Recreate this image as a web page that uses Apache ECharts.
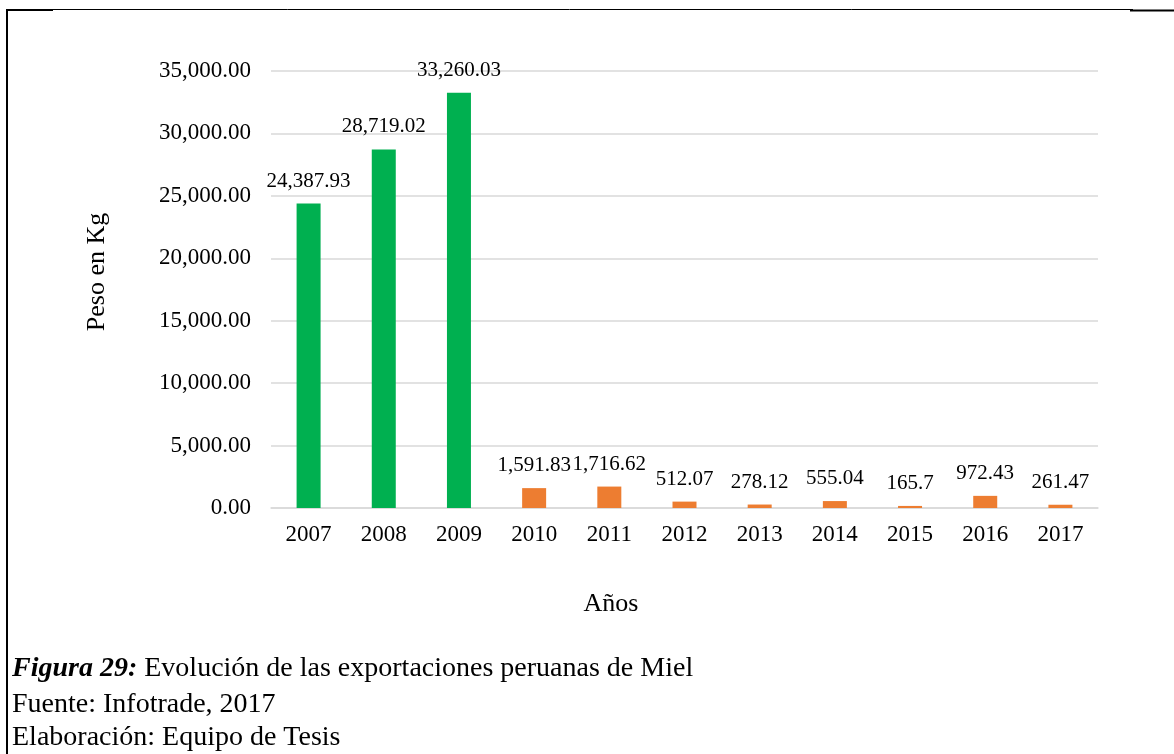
<!DOCTYPE html>
<html style="height: 100%">
<head>
<meta charset="utf-8">
</head>
<body style="height: 100%; margin: 0; background: #fff">
<div id="container" style="width: 1174px; height: 754px"></div>
<script src="https://cdn.jsdelivr.net/npm/echarts@6/dist/echarts.min.js"></script>
<script type="text/javascript">
var years = ['2007', '2008', '2009', '2010', '2011', '2012', '2013', '2014', '2015', '2016', '2017'];
var peso = [24387.93, 28719.02, 33260.03, 1591.83, 1716.62, 512.07, 278.12, 555.04, 165.7, 972.43, 261.47];
var captionLines = ['Fuente: Infotrade, 2017', 'Elaboración: Equipo de Tesis'];

var serif = '"Liberation Serif", "Times New Roman", serif';

function fmt(v, digits) {
    return v.toLocaleString('en-US', {minimumFractionDigits: digits, maximumFractionDigits: 2});
}

var dom = document.getElementById('container');
var myChart = echarts.init(dom);
var option = {
    animation: false,
    textStyle: {fontFamily: serif},
    grid: {left: 271, right: 76, top: 71, bottom: 246},
    xAxis: {
        type: 'category',
        data: years,
        axisLine: {lineStyle: {color: '#d9d9d9', width: 1.5}},
        axisTick: {show: false},
        axisLabel: {fontFamily: serif, fontSize: 23, color: '#000', margin: 15}
    },
    yAxis: {
        type: 'value',
        min: 0,
        max: 35000,
        interval: 5000,
        axisLine: {show: false},
        axisTick: {show: false},
        splitLine: {lineStyle: {color: '#d9d9d9', width: 1.5}},
        axisLabel: {
            fontFamily: serif, fontSize: 23, color: '#000', margin: 20,
            formatter: function (v) { return fmt(v, 2); }
        }
    },
    series: [{
        type: 'bar',
        data: peso,
        barWidth: 24,
        itemStyle: {
            color: function (p) { return p.dataIndex < 3 ? '#00b050' : '#ed7d31'; }
        },
        label: {
            show: true,
            position: 'top',
            distance: 12,
            fontFamily: serif,
            fontSize: 21,
            color: '#000',
            formatter: function (p) { return fmt(p.value, 0); }
        }
    }],
    graphic: [
        {type: 'line', shape: {x1: 7, y1: 9, x2: 7, y2: 754}, style: {stroke: '#000', lineWidth: 2}},
        {type: 'line', shape: {x1: 6, y1: 9.5, x2: 1133, y2: 9.5}, style: {stroke: '#000', lineWidth: 1}},
        {type: 'line', shape: {x1: 6, y1: 10, x2: 53, y2: 10}, style: {stroke: '#000', lineWidth: 2}},
        {type: 'line', shape: {x1: 1130, y1: 10.5, x2: 1174, y2: 10.5}, style: {stroke: '#000', lineWidth: 2}},
        {
            type: 'text', x: 97, y: 272, rotation: Math.PI / 2,
            style: {text: 'Peso en Kg', font: '26px ' + serif, fill: '#000', align: 'center', verticalAlign: 'middle'}
        },
        {
            type: 'text', x: 611, y: 604,
            style: {text: 'Años', font: '26px ' + serif, fill: '#000', align: 'center', verticalAlign: 'middle'}
        },
        {
            type: 'text', x: 12, y: 669,
            style: {
                text: '{b|Figura 29:} Evolución de las exportaciones peruanas de Miel',
                font: '28px ' + serif,
                fill: '#000',
                verticalAlign: 'middle',
                rich: {b: {fontFamily: serif, fontSize: 28, fontWeight: 'bold', fontStyle: 'italic'}}
            }
        },
        {type: 'text', x: 12, y: 705, style: {text: captionLines[0], font: '28px ' + serif, fill: '#000', verticalAlign: 'middle'}},
        {type: 'text', x: 12, y: 738, style: {text: captionLines[1], font: '28px ' + serif, fill: '#000', verticalAlign: 'middle'}}
    ]
};
myChart.setOption(option);
</script>
</body>
</html>
